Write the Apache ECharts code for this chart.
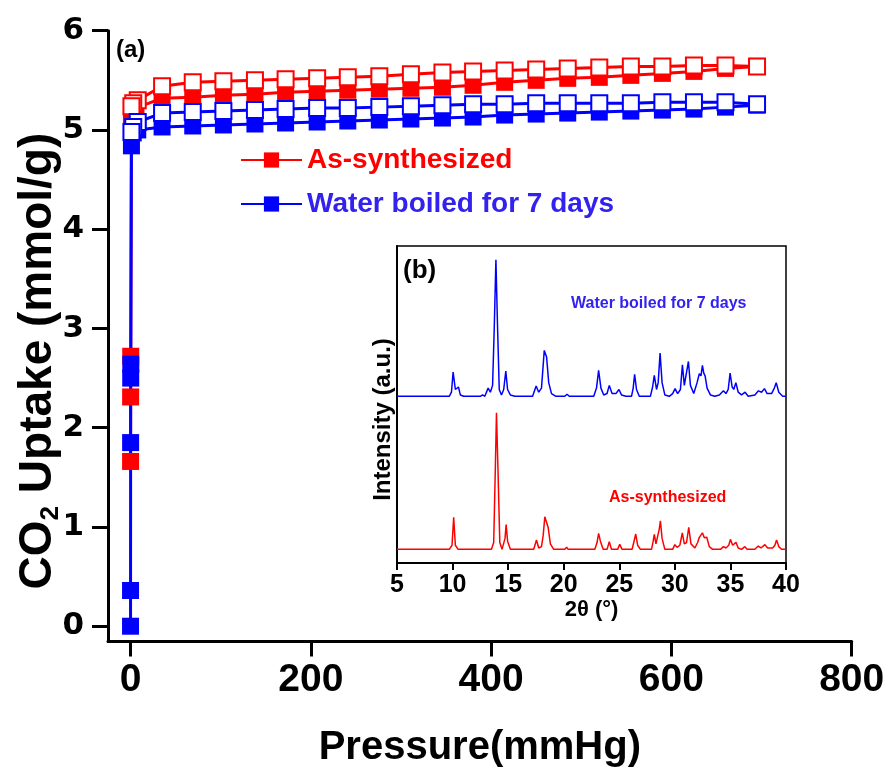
<!DOCTYPE html>
<html>
<head>
<meta charset="utf-8">
<script src="https://cdn.jsdelivr.net/npm/echarts@6/dist/echarts.min.js"></script>
<style>
  html, body { margin: 0; padding: 0; background: #fff; }
  #chart { width: 888px; height: 767px; }
</style>
</head>
<body>
<div id="chart"></div>
<script>
// ---- CO2 uptake isotherms (mmHg, mmol/g) ----
const pressureRedAds = [0.05, 0.1, 0.2, 1, 3, 6, 35, 69, 103, 138, 172, 207, 241, 276, 311, 346, 380, 415, 450, 485, 520, 555, 590, 625, 660, 695];
const uptakeRedAds   = [1.66, 2.31, 2.72, 5.12, 5.18, 5.22, 5.32, 5.33, 5.35, 5.36, 5.38, 5.39, 5.40, 5.41, 5.42, 5.43, 5.45, 5.48, 5.50, 5.52, 5.53, 5.55, 5.57, 5.59, 5.62, 5.64];

const pressureRedDes = [695, 660, 625, 590, 555, 520, 485, 450, 415, 380, 346, 311, 276, 241, 207, 172, 138, 103, 69, 35, 8, 3, 1];
const uptakeRedDes   = [5.64, 5.65, 5.65, 5.64, 5.64, 5.63, 5.62, 5.61, 5.60, 5.59, 5.58, 5.56, 5.54, 5.53, 5.52, 5.51, 5.50, 5.49, 5.48, 5.44, 5.30, 5.27, 5.24];

const pressureBlueAds = [0, 0.02, 0.1, 0.2, 0.3, 1, 3, 8, 35, 69, 103, 138, 172, 207, 241, 276, 311, 346, 380, 415, 450, 485, 520, 555, 590, 625, 660, 695];
const uptakeBlueAds   = [0, 0.36, 1.85, 2.50, 2.64, 4.84, 4.97, 5.00, 5.03, 5.04, 5.05, 5.06, 5.07, 5.08, 5.09, 5.10, 5.11, 5.12, 5.13, 5.15, 5.16, 5.17, 5.18, 5.19, 5.20, 5.21, 5.23, 5.25];

const pressureBlueDes = [695, 660, 625, 590, 555, 520, 485, 450, 415, 380, 346, 311, 276, 241, 207, 172, 138, 103, 69, 35, 8, 3, 1];
const uptakeBlueDes   = [5.26, 5.28, 5.28, 5.28, 5.27, 5.27, 5.27, 5.27, 5.26, 5.26, 5.25, 5.24, 5.23, 5.22, 5.22, 5.21, 5.20, 5.19, 5.18, 5.17, 5.08, 5.03, 4.98];

const pressureTicks = [0, 200, 400, 600, 800];
const uptakeTicks = [0, 1, 2, 3, 4, 5, 6];

const seriesNames = ['As-synthesized', 'Water boiled for 7 days'];

// ---- PXRD patterns: [2theta (deg), intensity (a.u.)] ----
const xrdAsSynthesized = [
  [5, 0], [9.7, 0], [9.95, 3], [10.1, 23.4], [10.25, 3], [10.5, 0],
  [13.5, 0], [13.7, 5], [13.85, 60], [13.95, 100], [14.08, 60], [14.25, 5], [14.45, 0],
  [14.6, 1], [14.72, 8], [14.82, 18.2], [14.95, 6], [15.2, 0],
  [16.3, 0], [16.4, 1], [16.5, 0],
  [17.3, 0], [17.55, 6.8], [17.75, 1], [18.0, 2], [18.15, 10], [18.3, 23.8], [18.45, 20], [18.6, 16], [18.8, 4], [19.1, 0],
  [20.1, 0], [20.26, 1.5], [20.4, 0],
  [22.8, 0], [23.0, 5], [23.14, 11.7], [23.3, 6], [23.55, 0],
  [23.9, 0], [24.1, 5.6], [24.3, 0],
  [24.85, 0], [25.04, 3.6], [25.25, 0],
  [26.15, 0], [26.3, 5], [26.48, 11.2], [26.65, 3], [26.9, 0],
  [27.9, 0], [28.05, 6], [28.15, 11], [28.3, 4], [28.45, 4], [28.6, 15], [28.7, 20.9], [28.85, 8], [29.1, 0],
  [29.8, 0], [30.0, 3.4], [30.2, 1.5], [30.45, 3], [30.67, 12.1], [30.85, 4], [31.05, 5], [31.25, 16], [31.45, 4],
  [31.8, 1], [32.05, 5], [32.2, 8.8], [32.35, 8], [32.48, 12.1], [32.65, 8.5], [32.87, 8.8], [33.1, 2], [33.4, 0],
  [34.1, 0], [34.37, 2], [34.6, 1], [34.85, 3], [35.0, 7.3], [35.2, 3], [35.35, 3], [35.5, 5.1], [35.7, 1], [36.0, 0], [36.3, 2], [36.5, 0],
  [37.2, 0], [37.5, 2.4], [37.75, 1], [38.1, 3.4], [38.35, 1], [38.8, 1], [39.0, 3], [39.15, 6.8], [39.35, 2], [39.6, 0], [40, 0]
];

const xrdWaterBoiled = [
  [5, 0], [9.7, 0], [9.9, 3], [10.05, 17.8], [10.25, 5], [10.4, 4], [10.53, 6.8], [10.7, 1], [11, 0],
  [12.5, 0], [12.7, 1], [12.9, 0],
  [13.0, 0], [13.2, 6], [13.4, 3], [13.6, 8], [13.75, 50], [13.9, 100], [14.05, 50], [14.2, 5], [14.4, 1],
  [14.6, 5], [14.79, 18.5], [14.95, 5], [15.2, 1], [15.6, 0],
  [17.2, 0], [17.52, 7.5], [17.75, 3], [18.0, 6], [18.25, 33.6], [18.46, 28.7], [18.65, 10], [18.9, 2], [19.3, 0],
  [20.1, 0], [20.3, 1.5], [20.5, 0],
  [22.7, 0], [22.95, 6], [23.14, 19], [23.35, 6], [23.6, 1], [23.9, 2], [24.1, 8], [24.35, 2], [24.7, 2], [24.97, 5], [25.2, 1], [25.6, 0],
  [26.1, 0], [26.25, 6], [26.38, 16], [26.55, 5], [26.8, 0],
  [27.8, 0], [28.0, 7], [28.15, 15.3], [28.35, 5], [28.5, 10], [28.67, 31.6], [28.85, 10], [29.1, 1], [29.5, 0],
  [29.8, 2], [30.02, 5.6], [30.25, 2], [30.5, 5], [30.68, 23.1], [30.85, 8], [31.0, 8], [31.22, 25.5], [31.4, 8],
  [31.7, 2], [32.0, 10], [32.2, 16.5], [32.35, 15], [32.48, 22.6], [32.6, 17], [32.72, 15], [32.9, 6], [33.2, 1], [33.6, 0],
  [34.0, 1], [34.37, 4], [34.6, 2], [34.8, 5], [34.97, 17], [35.15, 7], [35.3, 5], [35.49, 10], [35.7, 3], [36.0, 1], [36.32, 3], [36.6, 0],
  [37.2, 1], [37.52, 4], [37.8, 3], [38.06, 5.6], [38.3, 2], [38.7, 2], [38.95, 6], [39.12, 10], [39.35, 3], [39.7, 0], [40, 0]
];

// vertical offset used to stack the two patterns
const waterBoiledOffset = 112;

const RED = '#ff0000';
const BLUE = '#0000ff';
const BLUE_TEXT = '#3322ee';
const FONT = '"Liberation Sans", Arial, sans-serif';

const pairs = (xs, ys) => xs.map((x, i) => [x, ys[i]]);

const chart = echarts.init(document.getElementById('chart'), null, { renderer: 'canvas' });

const filledSeries = (name, color, data) => ({
  name, type: 'line', xAxisIndex: 0, yAxisIndex: 0, data,
  symbol: 'rect', symbolSize: 17, showAllSymbol: true,
  itemStyle: { color },
  lineStyle: { color, width: 3 },
  emphasis: { disabled: true }
});
const openSeries = (name, color, data) => ({
  name, type: 'line', xAxisIndex: 0, yAxisIndex: 0, data,
  symbol: 'rect', symbolSize: 16, showAllSymbol: true,
  itemStyle: { color: '#ffffff', borderColor: color, borderWidth: 2 },
  lineStyle: { color, width: 3 },
  emphasis: { disabled: true }
});

const legendBase = {
  left: 240, itemWidth: 61, itemHeight: 19, itemGap: 0, padding: 0,
  selectedMode: false,
  textStyle: { fontSize: 28, fontWeight: 'bold', fontFamily: FONT }
};

chart.setOption({
  animation: false,
  backgroundColor: '#ffffff',
  grid: [
    { left: 108, right: 36.3, top: 30.7, bottom: 125.5, containLabel: false, outerBoundsMode: 'none' },
    { left: 397, top: 246, width: 389, height: 317, show: true, borderColor: '#000', borderWidth: 1.5, backgroundColor: '#ffffff', outerBoundsMode: 'none' }
  ],
  legend: [
    Object.assign({}, legendBase, { top: 146, data: [{ name: seriesNames[0], textStyle: { color: RED } }] }),
    Object.assign({}, legendBase, { top: 190, data: [{ name: seriesNames[1], textStyle: { color: BLUE_TEXT } }] })
  ],
  xAxis: [
    {
      gridIndex: 0, type: 'value', min: -25, max: 800,
      axisLine: { show: true, onZero: false, lineStyle: { color: '#000', width: 3 } },
      axisTick: { show: true, length: 15, lineStyle: { color: '#000', width: 3 }, customValues: pressureTicks },
      axisLabel: { customValues: pressureTicks, fontSize: 39, fontWeight: 'bold', color: '#000', fontFamily: FONT, margin: 19 },
      splitLine: { show: false },
      name: 'Pressure(mmHg)', nameLocation: 'middle', nameGap: 86, nameMoveOverlap: false,
      nameTextStyle: { fontSize: 40, fontWeight: 'bold', color: '#000', fontFamily: FONT }
    },
    {
      gridIndex: 1, type: 'value', min: 5, max: 40, interval: 5,
      axisLine: { show: true, onZero: false, lineStyle: { color: '#000', width: 2 } },
      axisTick: { show: true, length: 7, lineStyle: { color: '#000', width: 2 } },
      axisLabel: { fontSize: 25, fontWeight: 'bold', color: '#000', fontFamily: FONT, margin: 10 },
      splitLine: { show: false },
      name: '2θ (°)', nameLocation: 'middle', nameGap: 36, nameMoveOverlap: false,
      nameTextStyle: { fontSize: 22, fontWeight: 'bold', color: '#000', fontFamily: FONT }
    }
  ],
  yAxis: [
    {
      gridIndex: 0, type: 'value', min: -0.154, max: 6,
      axisLine: { show: true, onZero: false, lineStyle: { color: '#000', width: 3 } },
      axisTick: { show: true, length: 16, lineStyle: { color: '#000', width: 3 }, customValues: uptakeTicks },
      axisLabel: { customValues: uptakeTicks, fontSize: 31, fontWeight: 'bold', color: '#000', fontFamily: '"DejaVu Sans", sans-serif', margin: 24 },
      splitLine: { show: false },
      name: '{a|CO}{s|2}{a| Uptake (mmol/g)}', nameLocation: 'middle', nameGap: 44, nameRotate: 90, nameMoveOverlap: false,
      nameTextStyle: {
        padding: [0, 50, 0, 0],
        rich: {
          a: { fontSize: 46, fontWeight: 'bold', color: '#000', fontFamily: FONT, lineHeight: 52 },
          s: { fontSize: 26, fontWeight: 'bold', color: '#000', fontFamily: FONT, lineHeight: 22, verticalAlign: 'bottom' }
        }
      }
    },
    {
      gridIndex: 1, type: 'value', min: -10, max: 222,
      axisLine: { show: true, onZero: false, lineStyle: { color: '#000', width: 2 } },
      axisTick: { show: false },
      axisLabel: { show: false },
      splitLine: { show: false },
      name: 'Intensity (a.u.)', nameLocation: 'middle', nameGap: 2, nameRotate: 90, nameMoveOverlap: false,
      nameTextStyle: { fontSize: 24, fontWeight: 'bold', color: '#000', fontFamily: FONT, padding: [0, 30, 0, 0] }
    }
  ],
  series: [
    filledSeries(seriesNames[0], RED, pairs(pressureRedAds, uptakeRedAds)),
    openSeries(seriesNames[0] + ' (desorption)', RED, pairs(pressureRedDes, uptakeRedDes)),
    filledSeries(seriesNames[1], BLUE, pairs(pressureBlueAds, uptakeBlueAds)),
    openSeries(seriesNames[1] + ' (desorption)', BLUE, pairs(pressureBlueDes, uptakeBlueDes)),
    {
      name: 'PXRD as-synthesized', type: 'line', xAxisIndex: 1, yAxisIndex: 1,
      data: xrdAsSynthesized, showSymbol: false, symbol: 'none',
      lineStyle: { color: RED, width: 1.5 }, itemStyle: { color: RED }, z: 5
    },
    {
      name: 'PXRD water boiled', type: 'line', xAxisIndex: 1, yAxisIndex: 1,
      data: xrdWaterBoiled.map(([t, v]) => [t, v + waterBoiledOffset]), showSymbol: false, symbol: 'none',
      lineStyle: { color: BLUE, width: 1.5 }, itemStyle: { color: BLUE }, z: 5
    }
  ],
  graphic: [
    { type: 'text', left: 116, top: 38, style: { text: '(a)', font: 'bold 24px ' + FONT, fill: '#000' } },
    { type: 'text', left: 403, top: 258, style: { text: '(b)', font: 'bold 26px ' + FONT, fill: '#000' } },
    { type: 'text', left: 571, top: 296, style: { text: 'Water boiled for 7 days', font: 'bold 16px ' + FONT, fill: BLUE_TEXT } },
    { type: 'text', left: 609, top: 490, style: { text: 'As-synthesized', font: 'bold 16px ' + FONT, fill: RED } }
  ]
});
</script>
</body>
</html>
